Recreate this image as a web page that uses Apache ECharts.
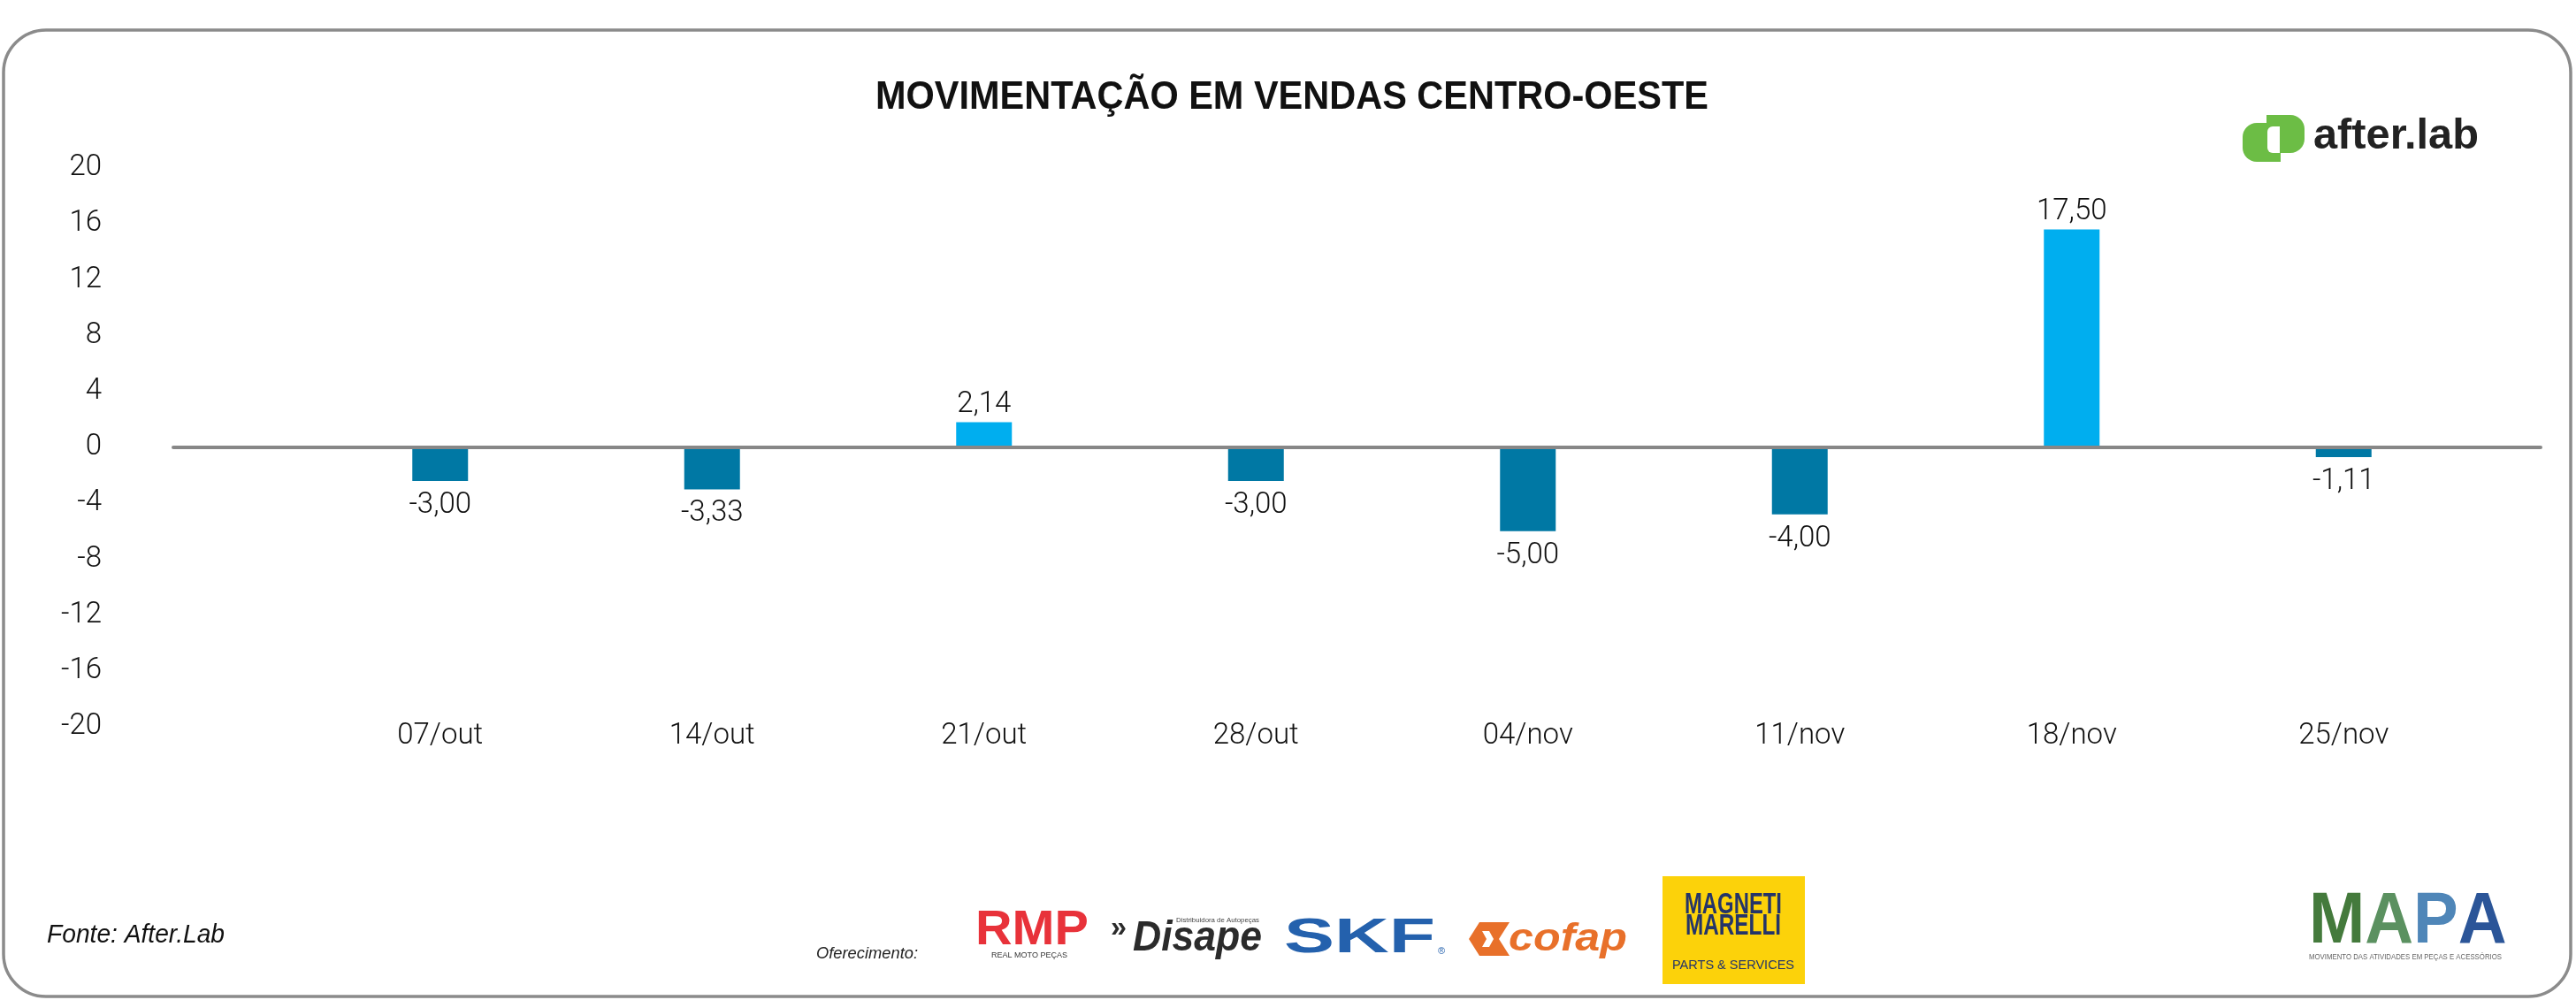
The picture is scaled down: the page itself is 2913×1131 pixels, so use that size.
<!DOCTYPE html>
<html><head><meta charset="utf-8">
<script src="https://cdn.jsdelivr.net/npm/echarts@6/dist/echarts.min.js"></script>
<style>html,body{margin:0;padding:0;background:#fff}#c{width:2913px;height:1131px}</style>
</head><body><div id="c"></div>
<script>
// ---- data ----
const categories = ['07/out','14/out','21/out','28/out','04/nov','11/nov','18/nov','25/nov'];
const barHeights = [-2.4, -3.0, 1.8, -2.4, -6.0, -4.8, 15.6, -0.7];
const valueLabels = ['-3,00','-3,33','2,14','-3,00','-5,00','-4,00','17,50','-1,11'];
const yMin = -20, yMax = 20, yStep = 4;
const titleText = 'MOVIMENTAÇÃO EM VENDAS CENTRO-OESTE';
const sourceText = 'Fonte: After.Lab';

// ---- helpers ----
const mctx = document.createElement('canvas').getContext('2d');
function fit(text, size, family, weight, style, width) {
  mctx.font = (style || 'normal') + ' ' + (weight || 'normal') + ' ' + size + 'px ' + family;
  const w = mctx.measureText(text).width;
  return w > 0 ? width / w : 1;
}
const baseFam = '"Liberation Sans", Arial, sans-serif';
function txt(text, x, y, o) {
  const fam = o.family || baseFam;
  const sx = o.width ? fit(text, o.size, fam, o.weight, o.fstyle, o.width) : 1;
  return {
    type: 'text', x: x, y: y, scaleX: sx, z: 20,
    style: {
      text: text, fontSize: o.size, fontFamily: fam, fontWeight: o.weight || 'normal',
      fontStyle: o.fstyle || 'normal', fill: o.fill || '#111',
      align: 'left', verticalAlign: 'middle'
    }
  };
}
const numFont = 'Roboto, "Noto Sans", sans-serif';
const POS = '#00AEEF', NEG = '#0078A4';

const chart = echarts.init(document.getElementById('c'));

const mapaRich = {};
const mapaCols = { a: '#447a3c', b: '#5b9160', c: '#4f86b8', d: '#2b5598' };
Object.keys(mapaCols).forEach(k => {
  mapaRich[k] = { fontSize: 82, fontWeight: 'bold', fontFamily: baseFam, fill: mapaCols[k] };
});

const graphics = [
  { type: 'rect', z: 1, shape: { x: 4, y: 34, width: 2903, height: 1093, r: 48 },
    style: { fill: 'none', stroke: '#8b8b8b', lineWidth: 3.5 } },
  txt(titleText, 990, 111, { size: 45, weight: 'bold', width: 942, fill: '#111' }),
  txt(sourceText, 53, 1058, { size: 29, fstyle: 'italic', width: 201, fill: '#111' }),
  txt('Oferecimento:', 923, 1079, { size: 19, fstyle: 'italic', width: 115, fill: '#222' }),
  // RMP
  txt('RMP', 1103, 1053, { size: 56, weight: 'bold', width: 128, fill: '#e8323a' }),
  txt('REAL MOTO PEÇAS', 1121, 1081, { size: 9, width: 86, fill: '#333' }),
  // Disape
  txt('»', 1256, 1050, { size: 34, weight: 'bold', width: 18, fill: '#2b2b2b' }),
  txt('Disape', 1281, 1062, { size: 48, weight: 'bold', fstyle: 'italic', width: 146, fill: '#2b2b2b' }),
  txt('Distribuidora de Autopeças', 1330, 1041, { size: 8, width: 94, fill: '#444' }),
  // SKF
  txt('SKF', 1452, 1062, { size: 56, weight: 'bold', width: 171, fill: '#2461ad' }),
  txt('®', 1626, 1076, { size: 11, fill: '#2461ad' }),
  // cofap
  { type: 'polygon', z: 20, shape: { points: [[1661,1062],[1673,1043],[1707,1043],[1695,1062],[1707,1081],[1673,1081]] },
    style: { fill: '#e8702a' } },
  { type: 'polygon', z: 21, shape: { points: [[1676,1053],[1684,1053],[1689,1062],[1684,1071],[1676,1071],[1681,1062]] },
    style: { fill: '#fff' } },
  txt('cofap', 1706, 1063, { size: 44, weight: 'bold', fstyle: 'italic', width: 134, fill: '#e8702a' }),
  // Magneti Marelli
  { type: 'rect', z: 19, shape: { x: 1880, y: 991, width: 161, height: 122 }, style: { fill: '#fcd20a' } },
  txt('MAGNETI', 1905, 1024, { size: 33, weight: 'bold', width: 110, fill: '#243469' }),
  txt('MARELLI', 1906, 1048, { size: 33, weight: 'bold', width: 108, fill: '#243469' }),
  txt('PARTS & SERVICES', 1891, 1092, { size: 14, width: 138, fill: '#243469' }),
  // MAPA
  { type: 'text', x: 2611, y: 1043, z: 20, scaleX: fit('MAPA', 82, baseFam, 'bold', 'normal', 218),
    style: { text: '{a|M}{b|A}{c|P}{d|A}', fontSize: 82, fontWeight: 'bold', fontFamily: baseFam,
      align: 'left', verticalAlign: 'middle', rich: mapaRich } },
  txt('MOVIMENTO DAS ATIVIDADES EM PEÇAS E ACESSÓRIOS', 2611, 1083, { size: 9, width: 218, fill: '#666' }),
  // after.lab
  { type: 'rect', z: 20, shape: { x: 2536, y: 139, width: 43, height: 44, r: [16, 0, 0, 16] }, style: { fill: '#6cbd45' } },
  { type: 'rect', z: 20, shape: { x: 2563, y: 130, width: 43, height: 43, r: [0, 16, 16, 0] }, style: { fill: '#6cbd45' } },
  { type: 'rect', z: 21, shape: { x: 2564, y: 143, width: 14, height: 30, r: [6, 0, 0, 6] }, style: { fill: '#fff' } },
  txt('after.lab', 2616, 155, { size: 48, weight: 'bold', width: 187, fill: '#222' })
];

const labelStyle = { fontFamily: numFont, fontWeight: 300, fontSize: 33, color: '#111' };

chart.setOption({
  animation: false,
  backgroundColor: '#fff',
  graphic: graphics,
  grid: [
    { left: 344, right: 109, top: 190, bottom: 309 },
    { left: 196, right: 40, top: 190, bottom: 309 }
  ],
  xAxis: [
    { type: 'category', gridIndex: 0, data: categories,
      axisLine: { show: false, onZero: false }, axisTick: { show: false },
      axisLabel: Object.assign({ interval: 0, margin: 11, verticalAlign: 'middle' }, labelStyle),
      splitLine: { show: false } },
    { type: 'value', gridIndex: 1, min: 0, max: 1, z: 5,
      axisLine: { show: true, onZero: true, lineStyle: { color: '#878787', width: 4 } },
      axisTick: { show: false }, axisLabel: { show: false }, splitLine: { show: false } }
  ],
  yAxis: [
    { type: 'value', gridIndex: 0, min: yMin, max: yMax, interval: yStep, show: false, splitLine: { show: false } },
    { type: 'value', gridIndex: 1, min: yMin, max: yMax, interval: yStep,
      axisLine: { show: false }, axisTick: { show: false }, splitLine: { show: false },
      axisLabel: Object.assign({ margin: 81, padding: [8, 0, 0, 0] }, labelStyle) }
  ],
  series: [{
    type: 'bar', xAxisIndex: 0, yAxisIndex: 0, barWidth: 63,
    data: barHeights.map(v => ({
      value: v,
      itemStyle: { color: v >= 0 ? POS : NEG },
      label: { position: v >= 0 ? 'top' : 'bottom', distance: v >= 0 ? 3 : 11 }
    })),
    label: Object.assign({ show: true, formatter: p => valueLabels[p.dataIndex] }, labelStyle)
  }]
});
</script></body></html>
